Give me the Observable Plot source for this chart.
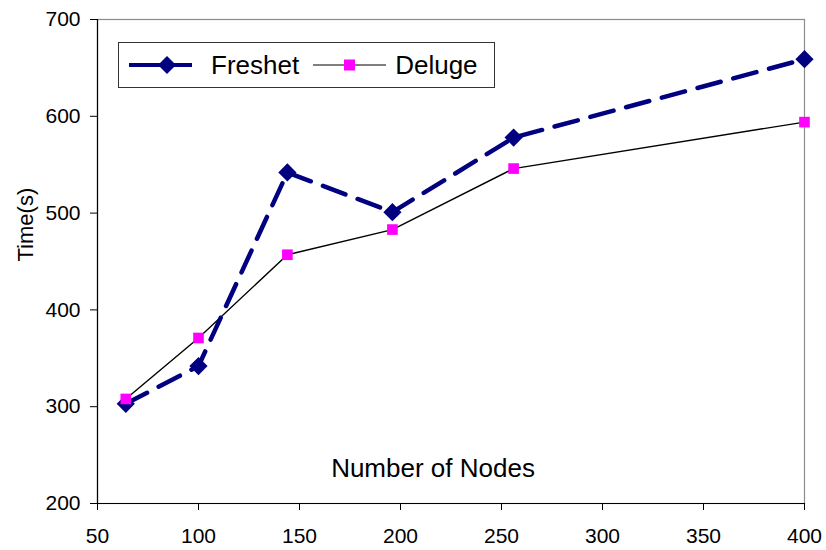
<!DOCTYPE html>
<html>
<head>
<meta charset="utf-8">
<script src="https://cdn.jsdelivr.net/npm/d3@7"></script>
<script src="https://cdn.jsdelivr.net/npm/@observablehq/plot@0.6"></script>
<style>
  body { margin: 0; background: #fff; font-family: "Liberation Sans", Arial, sans-serif; }
  #wrap { position: relative; width: 826px; height: 550px; }
  #legend {
    position: absolute; left: 118px; top: 42px; width: 375px; height: 44px;
    border: 1px solid #333; background: #fff; box-sizing: content-box;
    display: flex; align-items: center; font-size: 26px; color: #000;
  }
  #legend svg { display: block; }
  #legend .item { display: flex; align-items: center; }
</style>
</head>
<body>
<div id="wrap"></div>
<script>
// Network size (nodes) and completion time in seconds
const nodes = [64, 100, 144, 196, 256, 400];
const freshet = [303, 342, 542, 501, 578, 659];
const deluge = [308, 371, 457, 483, 546, 594];
const xTicks = [50, 100, 150, 200, 250, 300, 350, 400];
const yTicks = [200, 300, 400, 500, 600, 700];

const navy = "#000080";
const magenta = "#ff00ff";

const fData = nodes.map((n, i) => ({n, t: freshet[i]}));
const dData = nodes.map((n, i) => ({n, t: deluge[i]}));

const chart = Plot.plot({
  width: 826,
  height: 550,
  marginLeft: 97,
  marginRight: 22,
  marginTop: 19,
  marginBottom: 47,
  style: {fontFamily: "'Liberation Sans', Arial, sans-serif", background: "#fff", color: "#000"},
  x: {domain: [50, 400], ticks: xTicks},
  y: {domain: [200, 700], ticks: yTicks},
  marks: [
    Plot.frame({stroke: "#8c8c8c", strokeWidth: 1.2}),
    Plot.axisY({ticks: yTicks, tickSize: 7, tickPadding: 10, fontSize: 21, label: null, stroke: "#000"}),
    Plot.axisX({ticks: xTicks, tickSize: 7, tickPadding: 18, fontSize: 21, label: null, stroke: "#000"}),
    Plot.ruleX([50], {stroke: "#000", strokeWidth: 1.2}),
    Plot.ruleY([200], {stroke: "#000", strokeWidth: 1.2}),
    Plot.text(["Number of Nodes"], {frameAnchor: "bottom", dy: -27, dx: -18, fontSize: 26, fill: "#000"}),
    Plot.text(["Time(s)"], {frameAnchor: "left", dx: -72, rotate: -90, fontSize: 22, fill: "#000"}),
    Plot.line(dData, {x: "n", y: "t", stroke: "#000", strokeWidth: 1.4}),
    Plot.line(fData, {x: "n", y: "t", stroke: navy, strokeWidth: 4.5, strokeDasharray: "24,13"}),
    Plot.dot(fData, {x: "n", y: "t", symbol: "diamond2", r: 8.2, fill: navy, stroke: "none"}),
    Plot.dot(dData, {x: "n", y: "t", symbol: "square", r: 6, fill: magenta, stroke: "none"})
  ]
});

const wrap = document.getElementById("wrap");
wrap.appendChild(chart);

// Legend box drawn in the upper-left of the plot area
const legend = document.createElement("div");
legend.id = "legend";
legend.innerHTML = `
  <div class="item" style="margin-left:10px">
    <svg width="64" height="20" viewBox="0 0 64 20">
      <line x1="0" y1="10" x2="63" y2="10" stroke="${navy}" stroke-width="4"/>
      <path d="M38,1 L47,10 L38,19 L29,10 Z" fill="${navy}"/>
    </svg>
    <span style="margin-left:18px">Freshet</span>
  </div>
  <div class="item" style="margin-left:14px">
    <svg width="74" height="20" viewBox="0 0 74 20">
      <line x1="0" y1="10" x2="73" y2="10" stroke="#000" stroke-width="1.2"/>
      <rect x="31" y="4.5" width="11" height="11" fill="${magenta}"/>
    </svg>
    <span style="margin-left:8px">Deluge</span>
  </div>`;
wrap.appendChild(legend);
</script>
</body>
</html>
